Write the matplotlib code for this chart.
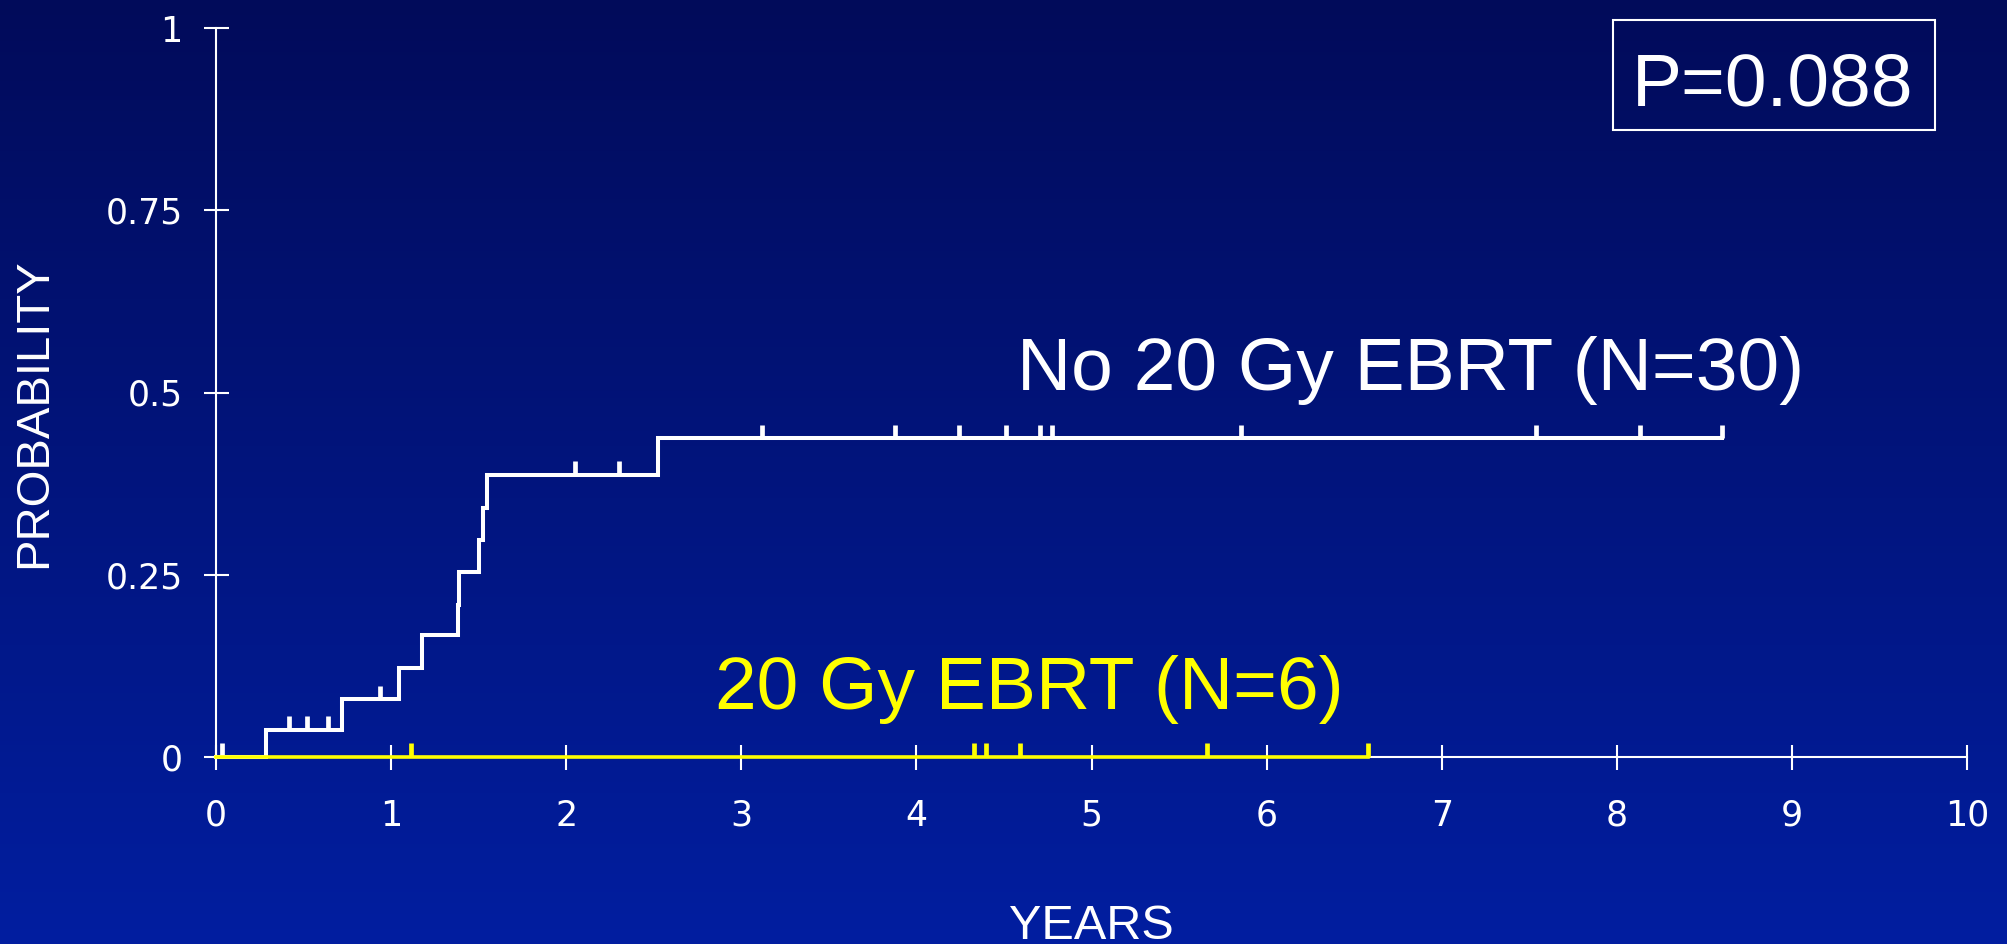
import numpy as np
import matplotlib
matplotlib.use("Agg")
import matplotlib.pyplot as plt
from matplotlib.patches import Rectangle

plt.rcParams['font.family'] = ['Liberation Sans', 'DejaVu Sans']

# Kaplan-Meier style cumulative probability, no 20 Gy EBRT group (N=30)
no_ebrt_times = [0.0, 0.286, 0.718, 1.047, 1.175, 1.380, 1.390, 1.504, 1.523, 1.546, 2.526, 8.601]
no_ebrt_probs = [0.0, 0.037, 0.079, 0.122, 0.167, 0.209, 0.254, 0.297, 0.341, 0.387, 0.437, 0.437]
no_ebrt_censored = [0.033, 0.419, 0.518, 0.638, 0.937, 2.050, 2.303, 3.118, 3.876, 4.241,
                    4.510, 4.706, 4.772, 5.852, 7.537, 8.132, 8.601]

# 20 Gy EBRT group (N=6): no events
ebrt_times = [0.0, 6.580]
ebrt_probs = [0.0, 0.0]
ebrt_censored = [1.114, 4.330, 4.400, 4.590, 5.662, 6.580]

x_ticks = list(range(0, 11))
y_ticks = [0, 0.25, 0.5, 0.75, 1]
y_tick_labels = ['0', '0.25', '0.5', '0.75', '1']

p_value_text = 'P=0.088'


def step_value(times, probs, t):
    idx = np.searchsorted(times, t, side='right') - 1
    return np.asarray(probs)[idx]


fig = plt.figure(figsize=(20.07, 9.44), dpi=100)

# dark-to-bright blue backdrop
bg = fig.add_axes([0, 0, 1, 1], zorder=-1)
top = np.array([1, 11, 90]) / 255
bottom = np.array([2, 30, 160]) / 255
frac = np.linspace(0, 1, 256)[:, None]
grad = top + (bottom - top) * frac
bg.imshow(grad[:, None, :], aspect='auto', extent=[0, 1, 0, 1])
bg.axis('off')

ax = fig.add_axes([216 / 2007, 187 / 944, 1751 / 2007, 729 / 944])
ax.set_facecolor('none')

ax.step(no_ebrt_times, no_ebrt_probs, where='post', color='white', lw=2.9,
        solid_joinstyle='miter', clip_on=False, zorder=3)
tick_h = 0.019
y_c = step_value(no_ebrt_times, no_ebrt_probs, no_ebrt_censored)
ax.vlines(no_ebrt_censored, y_c, y_c + tick_h, color='white', lw=3.4, clip_on=False, zorder=3)

ax.step(ebrt_times, ebrt_probs, where='post', color='#ffff00', lw=2.6, clip_on=False, zorder=4)
y_c = step_value(ebrt_times, ebrt_probs, ebrt_censored)
ax.vlines(ebrt_censored, y_c, y_c + tick_h, color='#ffff00', lw=3.4, clip_on=False, zorder=4)

ax.set_xlim(0, 10)
ax.set_ylim(0, 1)
ax.set_xticks(x_ticks)
ax.set_yticks(y_ticks)
ax.set_yticklabels(y_tick_labels)
for side in ['top', 'right']:
    ax.spines[side].set_visible(False)
for side in ['left', 'bottom']:
    ax.spines[side].set_color('white')
    ax.spines[side].set_linewidth(1.5)
ax.tick_params(direction='inout', length=18, width=1.5, colors='white', labelsize=25)
ax.tick_params(axis='y', pad=15)
ax.tick_params(axis='x', pad=21)
for lbl in ax.get_xticklabels() + ax.get_yticklabels():
    lbl.set_family('DejaVu Sans')

ax.text(4.575, 0.503, 'No 20 Gy EBRT (N=30)', color='white', fontsize=54,
        ha='left', va='baseline')
ax.text(2.847, 0.066, '20 Gy EBRT (N=6)', color='#ffff00', fontsize=54,
        ha='left', va='baseline')

ax.add_patch(Rectangle((7.98, 0.86), 1.84, 0.151, fill=False, edgecolor='white',
                       lw=1.5, clip_on=False))
ax.text(8.087, 0.894, p_value_text, color='white', fontsize=54, ha='left', va='baseline',
        clip_on=False)

fig.text(34 / 2007, 1 - 413 / 944, 'PROBABILITY', color='white', fontsize=34,
         rotation=90, ha='center', va='center')
fig.text(1091.5 / 2007, 5 / 944, 'YEARS', color='white', fontsize=35,
         ha='center', va='baseline')

fig.savefig('out.png', dpi=100)
